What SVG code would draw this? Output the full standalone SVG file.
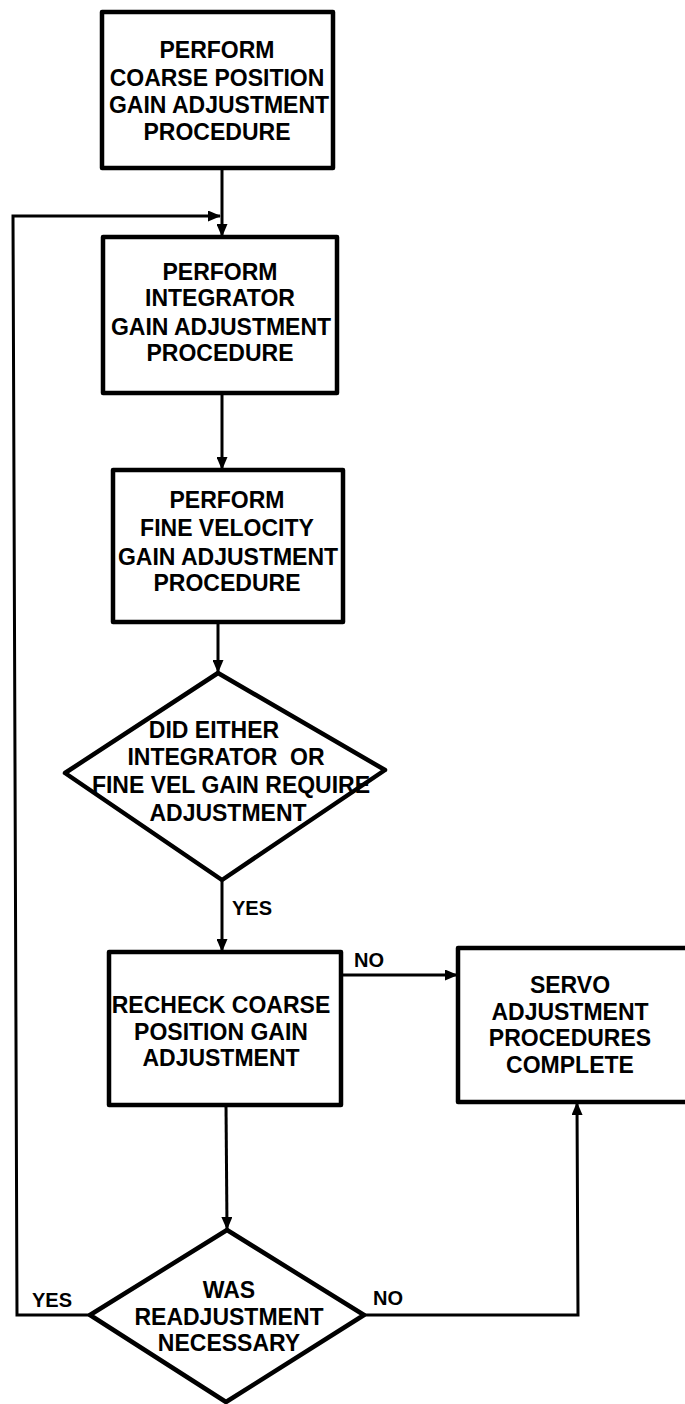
<svg xmlns="http://www.w3.org/2000/svg" width="685" height="1404" viewBox="0 0 685 1404">
<defs>
<marker id="arr" markerUnits="userSpaceOnUse" markerWidth="13" markerHeight="11" refX="12" refY="5.5" orient="auto">
<path d="M0,0 L13,5.5 L0,11 z" fill="#000"/>
</marker>
<style>
.box{fill:#fff;stroke:#000;stroke-width:4.5;stroke-linejoin:round}
.con{fill:none;stroke:#000;stroke-width:3}
.t{font-family:"Liberation Sans",Arial,sans-serif;font-weight:bold;font-size:23px;text-anchor:middle;fill:#000}
.lbl{font-family:"Liberation Sans",Arial,sans-serif;font-weight:bold;font-size:20px;fill:#000}
</style>
</defs>
<rect width="685" height="1404" fill="#fff"/>
<g id="connectors">
<path class="con" d="M222,168 L222,236" marker-end="url(#arr)"/>
<path class="con" d="M90,1315 L17,1315 L13,216 L220,216" marker-end="url(#arr)"/>
<path class="con" d="M222,393 L222,469" marker-end="url(#arr)"/>
<path class="con" d="M218,622 L218,672" marker-end="url(#arr)"/>
<path class="con" d="M222,880 L222,951" marker-end="url(#arr)"/>
<path class="con" d="M341,975 L457,975" marker-end="url(#arr)"/>
<path class="con" d="M226,1105 L227,1229" marker-end="url(#arr)"/>
<path class="con" d="M364,1315 L578,1315 L577,1103" marker-end="url(#arr)"/>
<text class="lbl" x="232" y="915">YES</text>
<text class="lbl" x="354" y="967">NO</text>
<text class="lbl" x="32" y="1307">YES</text>
<text class="lbl" x="373" y="1305">NO</text>
</g>
<g id="n1">
<rect class="box" x="102" y="12" width="231" height="156"/>
<text class="t" x="217" y="58">PERFORM</text>
<text class="t" x="217" y="86">COARSE POSITION</text>
<text class="t" x="219" y="113">GAIN ADJUSTMENT</text>
<text class="t" x="217" y="140">PROCEDURE</text>
</g>
<g id="n2">
<rect class="box" x="103" y="237" width="234" height="156"/>
<text class="t" x="220" y="280">PERFORM</text>
<text class="t" x="220" y="306">INTEGRATOR</text>
<text class="t" x="221" y="335">GAIN ADJUSTMENT</text>
<text class="t" x="220" y="361">PROCEDURE</text>
</g>
<g id="n3">
<rect class="box" x="113" y="470" width="230" height="152"/>
<text class="t" x="227" y="508">PERFORM</text>
<text class="t" x="227" y="536">FINE VELOCITY</text>
<text class="t" x="228" y="565">GAIN ADJUSTMENT</text>
<text class="t" x="227" y="591">PROCEDURE</text>
</g>
<g id="d1">
<path class="box" d="M218,673 L385,770 L222,880 L65,773 Z"/>
<text class="t" x="214" y="738">DID EITHER</text>
<text class="t" x="226" y="765" xml:space="preserve">INTEGRATOR  OR</text>
<text class="t" x="231" y="793">FINE VEL GAIN REQUIRE</text>
<text class="t" x="228" y="821">ADJUSTMENT</text>
</g>
<g id="n4">
<rect class="box" x="109" y="952" width="232" height="153"/>
<text class="t" x="221" y="1013">RECHECK COARSE</text>
<text class="t" x="221" y="1040">POSITION GAIN</text>
<text class="t" x="221" y="1066">ADJUSTMENT</text>
</g>
<g id="n5">
<rect class="box" x="458" y="948" width="240" height="154"/>
<text class="t" x="570" y="993">SERVO</text>
<text class="t" x="570" y="1020">ADJUSTMENT</text>
<text class="t" x="570" y="1046">PROCEDURES</text>
<text class="t" x="570" y="1073">COMPLETE</text>
</g>
<g id="d2">
<path class="box" d="M227,1230 L364,1315 L226,1402 L90,1315 Z"/>
<text class="t" x="229" y="1298">WAS</text>
<text class="t" x="229" y="1325">READJUSTMENT</text>
<text class="t" x="229" y="1351">NECESSARY</text>
</g>
</svg>
